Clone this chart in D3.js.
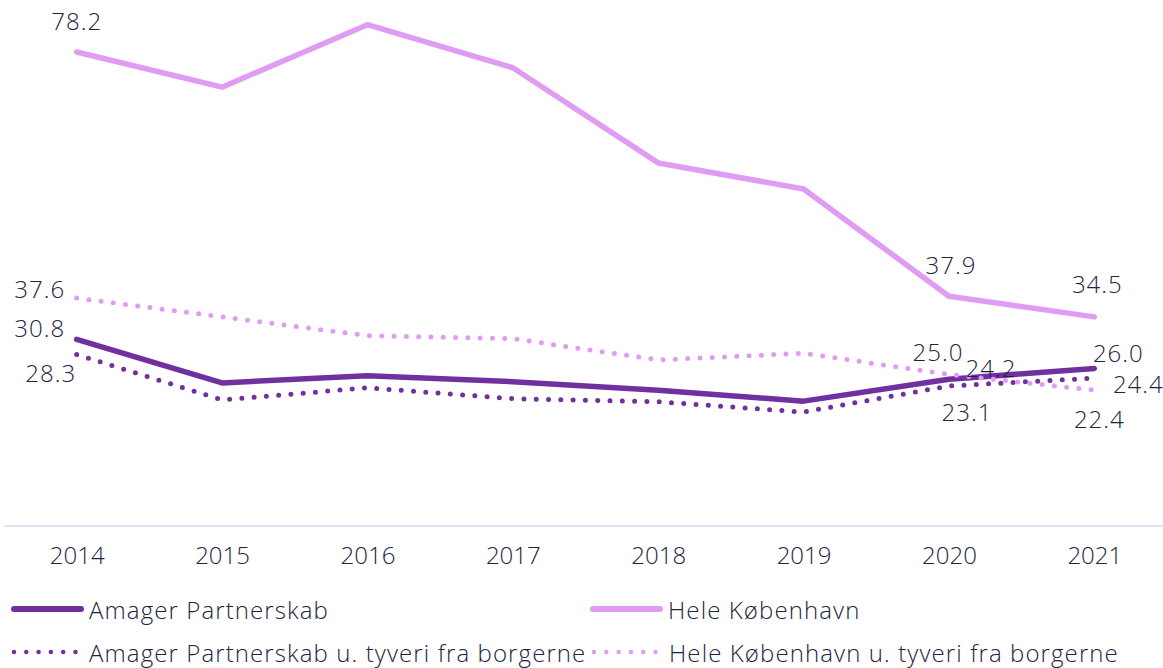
<!DOCTYPE html>
<html>
<head>
<meta charset="utf-8">
<script src="https://cdn.jsdelivr.net/npm/d3@7"></script>
<style>
body { margin: 0; background: #fff; }
svg text { font-family: "Open Sans", "Noto Sans", sans-serif; fill: #1d2540; font-weight: 300; }
</style>
</head>
<body>
<div id="container"></div>
<script>
///data
const years = ["2014", "2015", "2016", "2017", "2018", "2019", "2020", "2021"];
const amager = [30.8, 23.6, 24.8, 23.8, 22.4, 20.6, 24.2, 26.0];
const hele = [78.2, 72.4, 82.7, 75.6, 59.9, 55.6, 37.9, 34.5];
const amagerUden = [28.3, 20.8, 22.8, 21.0, 20.5, 18.8, 23.1, 24.4];
const heleUden = [37.6, 34.5, 31.4, 30.9, 27.4, 28.5, 25.0, 22.4];
const seriesNames = [
  "Amager Partnerskab",
  "Hele København",
  "Amager Partnerskab u. tyveri fra borgerne",
  "Hele København u. tyveri fra borgerne"
];

///vars
let w = 1163,
  h = 668;
const dark = "#7030a0",
  light = "#e09cf2";

const series = [
  { name: seriesNames[0], values: amager, color: dark, dotted: false },
  { name: seriesNames[1], values: hele, color: light, dotted: false },
  { name: seriesNames[2], values: amagerUden, color: dark, dotted: true },
  { name: seriesNames[3], values: heleUden, color: light, dotted: true }
];

// which points get a value label, and where it sits relative to the point
const labels = [
  { s: 1, i: 0, dx: 0, dy: -32 },
  { s: 1, i: 6, dx: 2, dy: -32 },
  { s: 1, i: 7, dx: 3, dy: -33 },
  { s: 3, i: 0, dx: -37, dy: -10 },
  { s: 0, i: 0, dx: -37, dy: -12 },
  { s: 2, i: 0, dx: -26, dy: 18 },
  { s: 3, i: 6, dx: -11, dy: -23 },
  { s: 0, i: 6, dx: 42, dy: -12 },
  { s: 2, i: 6, dx: 18, dy: 26 },
  { s: 0, i: 7, dx: 24, dy: -16 },
  { s: 2, i: 7, dx: 44, dy: 5 },
  { s: 3, i: 7, dx: 5, dy: 28 }
];

///svg
let svg = d3.select("#container").
append("svg").
attr("width", w).
attr("height", h);

const x = d3.scalePoint().domain(years).range([4, 1167]).padding(0.5);
const y = d3.scaleLinear().domain([0, 78.2]).range([526, 52]);

///axis line
svg.append("line").
attr("x1", 4).
attr("x2", w).
attr("y1", y(0)).
attr("y2", y(0)).
attr("stroke", "#cfe1f1").
attr("stroke-width", 1.5);

const xAxis = d3.axisBottom(x).tickSize(0).tickPadding(21);
svg.append("g").
attr("transform", "translate(0," + y(0) + ")").
call(xAxis).
call(g => g.select(".domain").remove()).
selectAll("text").
style("font-size", "24px").
style("font-family", "'Open Sans', 'Noto Sans', sans-serif").
style("font-weight", 300).
attr("fill", "#1d2540");

///lines
const line = d3.line().
x((d, i) => x(years[i])).
y(d => y(d));

svg.selectAll(".series").
data(series).
join("path").
attr("class", "series").
attr("d", d => line(d.values)).
attr("fill", "none").
attr("stroke", d => d.color).
attr("stroke-width", d => d.dotted ? 5 : 5.5).
attr("stroke-linecap", "round").
attr("stroke-linejoin", "round").
attr("stroke-dasharray", d => d.dotted ? "0 12.3" : null);

///value labels
svg.selectAll(".vlabel").
data(labels).
join("text").
attr("class", "vlabel").
attr("x", d => x(years[d.i]) + d.dx).
attr("y", d => y(series[d.s].values[d.i]) + d.dy).
attr("text-anchor", "middle").
attr("dominant-baseline", "central").
style("font-size", "24px").
style("letter-spacing", "1px").
text(d => series[d.s].values[d.i].toFixed(1));

///legend
const legendPos = [[12, 609], [591, 609], [12, 652], [592, 652]];
const legend = svg.selectAll(".legend-item").
data(series).
join("g").
attr("class", "legend-item").
attr("transform", (d, i) => "translate(" + legendPos[i][0] + "," + legendPos[i][1] + ")");

legend.append("line").
attr("x1", 2).
attr("x2", d => d.dotted ? 66 : 69).
attr("stroke", d => d.color).
attr("stroke-width", d => d.dotted ? 4.5 : 6).
attr("stroke-linecap", "round").
attr("stroke-dasharray", d => d.dotted ? "0 12.3" : null);

legend.append("text").
attr("x", 77).
attr("dominant-baseline", "central").
style("font-size", "24px").
style("letter-spacing", "1.1px").
text(d => d.name);
</script>
</body>
</html>
